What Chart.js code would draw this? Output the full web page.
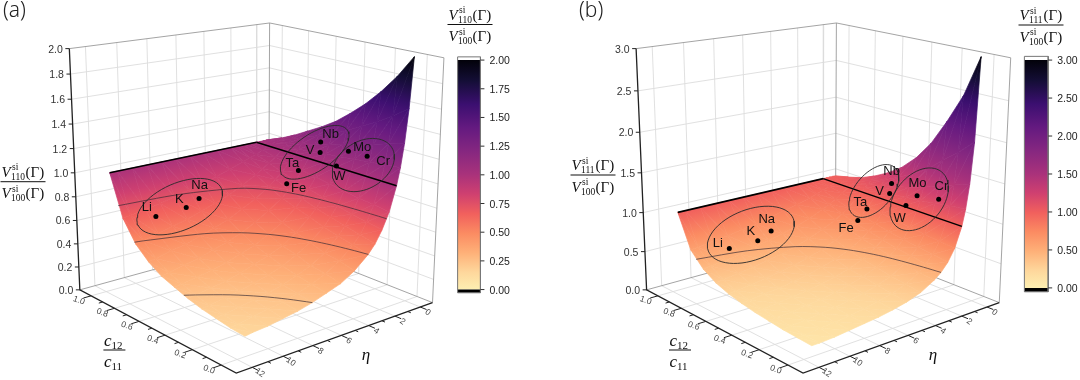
<!DOCTYPE html>
<html>
<head>
<meta charset="utf-8">
<style>
  html, body { margin: 0; background: #fff; }
  canvas { display: block; filter: blur(0.35px); }
</style>
<script src="https://cdn.jsdelivr.net/npm/chart.js@4"></script>
</head>
<body>
<canvas id="chart" width="1080" height="380"></canvas>
<script>
// values: one row per c12/c11, one column per eta
const c12Grid = [0, 0.1, 0.2, 0.3, 0.4, 0.5, 0.6, 0.7, 0.8, 0.9, 1];
const etaGrid = [0, 0.25, 0.5, 0.75, 1, 1.5, 2, 2.5, 3, 4, 5, 6, 7, 8, 9, 10, 11, 11.5];

const ratio110 = [
  [2.00, 1.60, 1.33, 1.14, 1, 0.80, 0.67, 0.57, 0.50, 0.40, 0.33, 0.29, 0.25, 0.22, 0.20, 0.18, 0.17, 0.16],
  [1.82, 1.51, 1.29, 1.13, 1, 0.82, 0.69, 0.60, 0.53, 0.43, 0.36, 0.31, 0.27, 0.24, 0.22, 0.20, 0.18, 0.17],
  [1.67, 1.43, 1.25, 1.11, 1, 0.83, 0.71, 0.63, 0.56, 0.45, 0.38, 0.33, 0.29, 0.26, 0.24, 0.22, 0.20, 0.19],
  [1.54, 1.36, 1.21, 1.10, 1, 0.85, 0.74, 0.66, 0.59, 0.49, 0.42, 0.36, 0.32, 0.29, 0.26, 0.24, 0.22, 0.21],
  [1.43, 1.29, 1.18, 1.08, 1, 0.87, 0.77, 0.69, 0.63, 0.53, 0.45, 0.40, 0.36, 0.32, 0.29, 0.27, 0.25, 0.24],
  [1.33, 1.23, 1.14, 1.07, 1, 0.89, 0.80, 0.73, 0.67, 0.57, 0.50, 0.44, 0.40, 0.36, 0.33, 0.31, 0.29, 0.28],
  [1.25, 1.18, 1.11, 1.05, 1, 0.91, 0.83, 0.77, 0.71, 0.63, 0.56, 0.50, 0.45, 0.42, 0.38, 0.36, 0.33, 0.32],
  [1.18, 1.13, 1.08, 1.04, 1, 0.93, 0.87, 0.82, 0.77, 0.69, 0.63, 0.57, 0.53, 0.49, 0.45, 0.43, 0.40, 0.39],
  [1.11, 1.08, 1.05, 1.03, 1, 0.95, 0.91, 0.87, 0.83, 0.77, 0.71, 0.67, 0.63, 0.59, 0.56, 0.53, 0.50, 0.49],
  [1.05, 1.04, 1.03, 1.01, 1, 0.98, 0.95, 0.93, 0.91, 0.87, 0.83, 0.80, 0.77, 0.74, 0.71, 0.69, 0.67, 0.66],
  [1, 1, 1, 1, 1, 1, 1, 1, 1, 1, 1, 1, 1, 1, 1, 1, 1, 1]
];

const ratio111 = [
  [3.00, 2.00, 1.50, 1.20, 1, 0.75, 0.60, 0.50, 0.43, 0.33, 0.27, 0.23, 0.20, 0.18, 0.16, 0.14, 0.13, 0.13],
  [2.50, 1.82, 1.43, 1.18, 1, 0.77, 0.63, 0.53, 0.45, 0.36, 0.29, 0.25, 0.22, 0.19, 0.17, 0.16, 0.14, 0.14],
  [2.14, 1.67, 1.36, 1.15, 1, 0.79, 0.65, 0.56, 0.48, 0.38, 0.32, 0.27, 0.24, 0.21, 0.19, 0.17, 0.16, 0.15],
  [1.82, 1.50, 1.28, 1.12, 1, 0.81, 0.68, 0.59, 0.52, 0.42, 0.35, 0.30, 0.26, 0.23, 0.21, 0.19, 0.18, 0.17],
  [1.58, 1.38, 1.22, 1.10, 1, 0.83, 0.71, 0.63, 0.56, 0.45, 0.38, 0.33, 0.29, 0.26, 0.24, 0.22, 0.20, 0.19],
  [1.40, 1.28, 1.17, 1.08, 1, 0.86, 0.75, 0.67, 0.60, 0.50, 0.43, 0.38, 0.33, 0.30, 0.27, 0.25, 0.23, 0.22],
  [1.27, 1.19, 1.12, 1.06, 1, 0.88, 0.79, 0.71, 0.65, 0.56, 0.48, 0.43, 0.38, 0.35, 0.32, 0.29, 0.27, 0.26],
  [1.17, 1.12, 1.08, 1.04, 1, 0.91, 0.83, 0.77, 0.71, 0.63, 0.56, 0.50, 0.45, 0.42, 0.38, 0.36, 0.33, 0.32],
  [1.09, 1.07, 1.05, 1.02, 1, 0.94, 0.88, 0.83, 0.79, 0.71, 0.65, 0.60, 0.56, 0.52, 0.48, 0.45, 0.43, 0.42],
  [1.04, 1.03, 1.02, 1.01, 1, 0.97, 0.94, 0.91, 0.88, 0.83, 0.79, 0.75, 0.71, 0.68, 0.65, 0.63, 0.60, 0.59],
  [1, 1, 1, 1, 1, 1, 1, 1, 1, 1, 1, 1, 1, 1, 1, 1, 1, 1]
];

// contour lines on the surfaces
const contour75C = [0, 0.1, 0.2, 0.3, 0.4, 0.5, 0.6, 0.7, 0.8, 0.9, 0.937];
const contour75Eta = [1.67, 1.74, 1.83, 1.95, 2.11, 2.33, 2.67, 3.22, 4.33, 7.67, 11.5];
const contour50C = [0, 0.1, 0.2, 0.3, 0.4, 0.5, 0.6, 0.7, 0.8, 0.81];
const contour50Eta = [3, 3.22, 3.5, 3.86, 4.33, 5, 6, 7.67, 11, 11.5];
const contour25C = [0, 0.1, 0.2, 0.3, 0.4, 0.43];
const contour25Eta = [7, 7.67, 8.5, 9.57, 11, 11.5];
const contour111C = [0, 0.1, 0.2, 0.3, 0.4, 0.5, 0.6, 0.7, 0.8, 0.857];
const contour111Eta = [2.5, 2.67, 2.88, 3.14, 3.5, 4, 4.75, 6, 8.5, 11.5];

// elements, as placed in each panel
const elementNames = ['Li', 'K', 'Na', 'Ta', 'V', 'Nb', 'Mo', 'Cr', 'W', 'Fe'];
const element110C = [0.84, 0.83, 0.84, 0.60, 0.535, 0.56, 0.34, 0.22, 0.40, 0.59];
const element110Eta = [9.8, 7.8, 6.8, 1.77, 0.8, 0.5, 0.77, 0.7, 1.0, 2.76];
const element110Z = [0.65, 0.67, 0.715, 0.914, 1.07, 1.144, 1.15, 1.15, 1.01, 0.83];
const element111C = [0.84, 0.83, 0.84, 0.60, 0.51, 0.525, 0.32, 0.18, 0.375, 0.59];
const element111Eta = [9.4, 7.5, 6.45, 1.6, 0.8, 0.5, 0.77, 0.7, 1.0, 2.4];
const element111Z = [0.545, 0.56, 0.63, 0.86, 1.085, 1.195, 1.17, 1.21, 1.02, 0.75];

// tick labels
const cTicks = ['0.0', '0.2', '0.4', '0.6', '0.8', '1.0'];
const etaTicks = ['0', '2', '4', '6', '8', '10', '12'];
const zTicks110 = ['0.0', '0.2', '0.4', '0.6', '0.8', '1.0', '1.2', '1.4', '1.6', '1.8', '2.0'];
const zTicks111 = ['0.0', '0.5', '1.0', '1.5', '2.0', '2.5', '3.0'];
const barTicks110 = ['0.00', '0.25', '0.50', '0.75', '1.00', '1.25', '1.50', '1.75', '2.00'];
const barTicks111 = ['0.00', '0.50', '1.00', '1.50', '2.00', '2.50', '3.00'];

// axis ranges of the box
const cRange = [-0.1, 1.1];
const etaRange = [-1, 13];

const magmaStops = [
  [0, '#fdf2b4'], [0.083, '#fed79c'], [0.167, '#feb078'], [0.25, '#fb8b62'], [0.333, '#f1605d'],
  [0.417, '#cf4070'], [0.5, '#a9327b'], [0.6, '#852780'], [0.7, '#641a80'], [0.8, '#3b0f70'],
  [0.9, '#140e36'], [1, '#000004']
];

function hexRgb(h) {
  return [1, 3, 5].map(i => parseInt(h.substr(i, 2), 16));
}
function magma(f) {
  f = Math.max(0, Math.min(1, f));
  for (let i = 1; i < magmaStops.length; i++) {
    if (f <= magmaStops[i][0]) {
      const t = (f - magmaStops[i - 1][0]) / (magmaStops[i][0] - magmaStops[i - 1][0]);
      const a = hexRgb(magmaStops[i - 1][1]), b = hexRgb(magmaStops[i][1]);
      return `rgb(${a.map((v, k) => Math.round(v + (b[k] - v) * t)).join(',')})`;
    }
  }
  return magmaStops[magmaStops.length - 1][1];
}

// perspective of panel (a), measured at the box corners
const box = {
  right: [431.7, 305], back: [266.6, 239], left: [76.4, 292], front: [234, 377],
  topLeft: [66.4, 45], topBack: [266.6, 22.7], topRight: [443.8, 51.7]
};

function buildCamera() {
  const p00 = box.right, p10 = box.back, p11 = box.left, p01 = box.front;
  const dx1 = p10[0] - p11[0], dx2 = p01[0] - p11[0], sx = p00[0] - p10[0] + p11[0] - p01[0];
  const dy1 = p10[1] - p11[1], dy2 = p01[1] - p11[1], sy = p00[1] - p10[1] + p11[1] - p01[1];
  const det = dx1 * dy2 - dx2 * dy1;
  const g = (sx * dy2 - dx2 * sy) / det, h = (dx1 * sy - sx * dy1) / det;
  const a = p10[0] - p00[0] + g * p10[0], b = p01[0] - p00[0] + h * p01[0], d = p00[0];
  const e = p10[1] - p00[1] + g * p10[1], f = p01[1] - p00[1] + h * p01[1], j = p00[1];
  const rest = (pt, u, v) => [
    pt[0] * (g * u + h * v + 1) - (a * u + b * v + d),
    pt[1] * (g * u + h * v + 1) - (e * u + f * v + j)
  ];
  const rL = rest(box.topLeft, 1, 1), rR = rest(box.topRight, 0, 0), rB = rest(box.topBack, 1, 0);
  const k = (rL[0] - rR[0]) / (box.topRight[0] - box.topLeft[0]);
  const cx = (rL[0] + box.topLeft[0] * k + rR[0] + box.topRight[0] * k + rB[0] + box.topBack[0] * k) / 3;
  const cy = (rL[1] + box.topLeft[1] * k + rR[1] + box.topRight[1] * k + rB[1] + box.topBack[1] * k) / 3;
  return { a, b, cx, d, e, f, cy, j, g, h, k };
}
const cam = buildCamera();

function project(panel, c, eta, z) {
  const u = (c - cRange[0]) / (cRange[1] - cRange[0]);
  const v = (eta - etaRange[0]) / (etaRange[1] - etaRange[0]);
  const w = z / panel.zMax;
  const q = cam.g * u + cam.h * v + cam.k * w + 1;
  return {
    x: (cam.a * u + cam.b * v + cam.cx * w + cam.d) / q + panel.dx,
    y: (cam.e * u + cam.f * v + cam.cy * w + cam.j) / q
  };
}

const panels = [
  {
    name: '(a)', nameX: 3, dx: 0, zMax: 2, rows: ratio110, zTicks: zTicks110, hkl: '110',
    elC: element110C, elEta: element110Eta, elZ: element110Z,
    contours: [[contour75C, contour75Eta, 0.75], [contour50C, contour50Eta, 0.5], [contour25C, contour25Eta, 0.25]],
    bar: { x0: 457, x1: 480, over: 54, top: 57.3, bottom: 291.7, under: 295, ticks: barTicks110 },
    ratioLeft: [23, 181.7], ratioBar: [470, 24.5], cLabel: [114.4, 350], etaLabel: [366, 356],
    ellipses: [[177, 207, 46, 24, -24], [313, 151.5, 40, 18.7, -34.6], [362, 164.5, 33.8, 24, -32.5]],
    labelOffsets: [[-9, -10], [-7, -9.5], [0.5, -14], [-6, -8.3], [-10, -3], [10, -8.5], [13.7, -5], [16, 4], [3, 9.6], [12, 4]]
  },
  {
    name: '(b)', nameX: 579, dx: 571, zMax: 3, rows: ratio111, zTicks: zTicks111, hkl: '111',
    elC: element111C, elEta: element111Eta, elZ: element111Z,
    contours: [[contour111C, contour111Eta, 0.5]],
    bar: { x0: 1028, x1: 1052, over: 53.5, top: 57.3, bottom: 290, under: 294, ticks: barTicks111 },
    ratioLeft: [593, 175], ratioBar: [1041, 25], cLabel: [680, 350], etaLabel: [933, 356],
    ellipses: [[752.4, 235.8, 45.9, 25.8, -21.2], [876.3, 191, 32, 18.4, -49], [922, 199.5, 36, 24.4, -51.7]],
    labelOffsets: [[-11.5, -6], [-7, -10.3], [-4.4, -12.6], [-6.6, -7.7], [-10, -2.6], [0, -12.6], [0.4, -13], [2.7, -14], [-6.4, 12.4], [-11.7, 7.4]]
  }
];

const canvas = document.getElementById('chart');
const ctx2d = canvas.getContext('2d');
const datasets = [];

const gap = { x: null, y: null };

function addLine(points, color, width, extra) {
  datasets.push(Object.assign({
    data: points, showLine: true, borderColor: color, borderWidth: width,
    pointRadius: 0, fill: false, tension: 0
  }, extra || {}));
}

function addFace(points, paint, edge) {
  datasets.push({
    data: points, showLine: true, fill: 'shape', backgroundColor: paint,
    borderColor: paint, borderWidth: edge, pointRadius: 0, tension: 0
  });
}

function addTriangle(panel, a, b, c) {
  const x1 = b.p.x - a.p.x, y1 = b.p.y - a.p.y, x2 = c.p.x - a.p.x, y2 = c.p.y - a.p.y;
  const dz1 = b.z - a.z, dz2 = c.z - a.z;
  const det = x1 * y2 - x2 * y1;
  const pts = [a.p, b.p, c.p, a.p];
  const lo = Math.min(a.z, b.z, c.z), hi = Math.max(a.z, b.z, c.z);
  if (Math.abs(det) < 1e-6 || hi - lo < 1e-6) {
    addFace(pts, magma(a.z / panel.zMax), 0.7);
    return;
  }
  const gx = (dz1 * y2 - dz2 * y1) / det, gy = (x1 * dz2 - x2 * dz1) / det;
  const n = gx * gx + gy * gy;
  const grad = ctx2d.createLinearGradient(
    a.p.x + (lo - a.z) * gx / n, a.p.y + (lo - a.z) * gy / n,
    a.p.x + (hi - a.z) * gx / n, a.p.y + (hi - a.z) * gy / n
  );
  for (let s = 0; s <= 8; s++) {
    grad.addColorStop(s / 8, magma((lo + (hi - lo) * s / 8) / panel.zMax));
  }
  addFace(pts, grad, 0.7);
}

function buildPanel(panel) {
  const P = (c, eta, z) => project(panel, c, eta, z);
  const grid = '#dcdcdc', wall = '#9a9a9a', dark = '#222';
  const zVals = panel.zTicks.map(Number);

  // walls and floor
  const gridPts = [];
  zVals.slice(1, -1).forEach(z => {
    gridPts.push(P(cRange[1], etaRange[1], z), P(cRange[1], etaRange[0], z), P(cRange[0], etaRange[0], z), gap);
  });
  etaTicks.map(Number).forEach(e => {
    gridPts.push(P(cRange[1], e, panel.zMax), P(cRange[1], e, 0), P(cRange[0], e, 0), gap);
  });
  cTicks.map(Number).forEach(c => {
    gridPts.push(P(c, etaRange[0], panel.zMax), P(c, etaRange[0], 0), P(c, etaRange[1], 0), gap);
  });
  addLine(gridPts, grid, 0.9);

  addLine([
    P(cRange[1], etaRange[1], panel.zMax), P(cRange[1], etaRange[0], panel.zMax), P(cRange[0], etaRange[0], panel.zMax),
    P(cRange[0], etaRange[0], 0), gap,
    P(cRange[1], etaRange[0], panel.zMax), P(cRange[1], etaRange[0], 0), gap,
    P(cRange[1], etaRange[1], 0), P(cRange[1], etaRange[0], 0), P(cRange[0], etaRange[0], 0)
  ], wall, 0.9);

  // front edges, z axis and their ticks
  addLine([P(cRange[1], etaRange[1], panel.zMax), P(cRange[1], etaRange[1], 0), P(cRange[0], etaRange[1], 0), P(cRange[0], etaRange[0], 0)], dark, 1.3);
  const tickPts = [];
  for (let c = 0; c <= 10; c++) {
    tickPts.push(P(c / 10, etaRange[1], 0), P(c / 10, etaRange[1] + (c % 2 ? 0.25 : 0.5), 0), gap);
  }
  for (let e = 0; e <= 12; e++) {
    tickPts.push(P(cRange[0], e, 0), P(cRange[0] - (e % 2 ? 0.02 : 0.04), e, 0), gap);
  }
  zVals.forEach(z => {
    const p = P(cRange[1], etaRange[1], z);
    tickPts.push(p, { x: p.x - 4, y: p.y }, gap);
  });
  addLine(tickPts, dark, 1);

  // surface, painted from the back corner to the front
  for (let i = c12Grid.length - 1; i > 0; i--) {
    for (let j = 0; j < etaGrid.length - 1; j++) {
      const v = (ci, ej) => ({ p: P(c12Grid[ci], etaGrid[ej], panel.rows[ci][ej]), z: panel.rows[ci][ej] });
      addTriangle(panel, v(i, j), v(i - 1, j), v(i, j + 1));
      addTriangle(panel, v(i - 1, j), v(i - 1, j + 1), v(i, j + 1));
    }
  }

  // contours
  panel.contours.forEach(([cs, etas, level]) => {
    addLine(cs.map((c, i) => P(c, etas[i], level)), 'rgba(50,40,50,0.75)', 0.9, { tension: 0.3 });
  });

  // the eta = 1 and c12/c11 = 1 lines where the ratio is 1
  addLine([P(1, 11.5, 1), P(1, 1, 1)], '#000', 1.6);
  addLine([P(1, 1, 1), P(0, 1, 1)], '#000', 1.5);

  // element groups
  panel.ellipses.forEach(([cx, cy, ra, rb, deg]) => {
    const th = deg * Math.PI / 180, pts = [];
    for (let t = 0; t <= 60; t++) {
      const s = t / 60 * 2 * Math.PI;
      pts.push({
        x: cx + ra * Math.cos(s) * Math.cos(th) - rb * Math.sin(s) * Math.sin(th),
        y: cy + ra * Math.cos(s) * Math.sin(th) + rb * Math.sin(s) * Math.cos(th)
      });
    }
    addLine(pts, '#2a2a2a', 0.9);
  });

  datasets.push({
    data: elementNames.map((_, i) => P(panel.elC[i], panel.elEta[i], panel.elZ[i])),
    showLine: false, pointRadius: 2.5, pointBackgroundColor: '#000', pointBorderWidth: 0
  });

  // colour bar
  const b = panel.bar;
  const barGrad = ctx2d.createLinearGradient(0, b.bottom, 0, b.top);
  magmaStops.forEach(([f, col]) => barGrad.addColorStop(f, col));
  addFace([{ x: b.x0, y: b.top }, { x: b.x1, y: b.top }, { x: b.x1, y: b.bottom }, { x: b.x0, y: b.bottom }, { x: b.x0, y: b.top }], barGrad, 0);
  addFace([{ x: b.x0, y: b.bottom }, { x: b.x1, y: b.bottom }, { x: b.x1, y: b.under }, { x: b.x0, y: b.under }, { x: b.x0, y: b.bottom }], '#000', 0);
  addLine([{ x: b.x0, y: b.over }, { x: b.x1, y: b.over }, { x: b.x1, y: b.under }, { x: b.x0, y: b.under }, { x: b.x0, y: b.over }], '#777', 1);
  const barTickPts = [];
  b.ticks.forEach((t, i) => {
    const y = b.bottom + (b.top - b.bottom) * i / (b.ticks.length - 1);
    barTickPts.push({ x: b.x1, y }, { x: b.x1 + 4, y }, gap);
  });
  addLine(barTickPts, '#333', 1);
}

panels.forEach(buildPanel);
// first dataset is painted first
datasets.forEach((d, i) => { d.order = datasets.length - i; });

function drawRatio(ctx, cx, barY, hkl) {
  const serif = '"Liberation Serif"';
  const row = (hklText, base) => {
    let x = cx - 21.5;
    ctx.textAlign = 'left';
    ctx.font = `italic 15px ${serif}`;
    ctx.fillText('V', x, base);
    x += 9.5;
    ctx.font = `9.5px ${serif}`;
    ctx.fillText('si', x + 1, base - 6.5);
    ctx.fillText(hklText, x, base + 3);
    x += 14.5;
    ctx.font = `15px ${serif}`;
    ctx.fillText('(Γ)', x, base);
  };
  ctx.fillStyle = '#111';
  row(hkl, barY - 5);
  row('100', barY + 16.5);
  ctx.fillRect(cx - 22.5, barY - 0.5, 45, 1);
}

function drawC(ctx, cx, barY) {
  const serif = '"Liberation Serif"';
  const row = (sub, base) => {
    ctx.textAlign = 'left';
    ctx.font = `italic 17px ${serif}`;
    ctx.fillText('c', cx - 10.5, base);
    ctx.font = `11px ${serif}`;
    ctx.fillText(sub, cx - 3, base + 3);
  };
  ctx.fillStyle = '#111';
  row('12', barY - 4);
  row('11', barY + 17);
  ctx.fillRect(cx - 11, barY - 0.5, 22, 1);
}

const textPlugin = {
  id: 'panelText',
  afterDraw(chart) {
    const ctx = chart.ctx;
    const sx = chart.scales.x, sy = chart.scales.y;
    const at = p => [sx.getPixelForValue(p.x), sy.getPixelForValue(p.y)];
    const sans = '"Liberation Sans"';
    ctx.save();
    ctx.textBaseline = 'alphabetic';
    panels.forEach(panel => {
      const P = (c, eta, z) => project(panel, c, eta, z);

      ctx.fillStyle = '#222';
      ctx.textAlign = 'left';
      ctx.font = '300 21px "Noto Sans"';
      ctx.fillText(panel.name, panel.nameX, 17);

      // z axis
      ctx.fillStyle = '#333';
      ctx.font = `10.5px ${sans}`;
      ctx.textAlign = 'right';
      panel.zTicks.forEach(t => {
        const [x, y] = at(P(cRange[1], etaRange[1], Number(t)));
        ctx.fillText(t, x - 6.5, y + 4);
      });

      // floor axes
      ctx.font = `8.5px ${sans}`;
      ctx.textAlign = 'center';
      ctx.fillStyle = '#444';
      cTicks.forEach(t => {
        const [x, y] = at(P(Number(t), etaRange[1], 0));
        ctx.save();
        ctx.translate(x - 12, y + 4);
        ctx.rotate(20 * Math.PI / 180);
        ctx.fillText(t, 0, 3);
        ctx.restore();
      });
      etaTicks.forEach(t => {
        const [x, y] = at(P(cRange[0], Number(t), 0));
        ctx.save();
        ctx.translate(x + 8, y + 5);
        ctx.rotate(35 * Math.PI / 180);
        ctx.fillText(t, 0, 3);
        ctx.restore();
      });

      // colour bar labels
      const b = panel.bar;
      ctx.fillStyle = '#222';
      ctx.textAlign = 'left';
      ctx.font = `10.5px ${sans}`;
      b.ticks.forEach((t, i) => {
        const y = sy.getPixelForValue(b.bottom + (b.top - b.bottom) * i / (b.ticks.length - 1));
        ctx.fillText(t, sx.getPixelForValue(b.x1 + 9), y + 4);
      });

      // element names
      ctx.fillStyle = '#111';
      ctx.textAlign = 'center';
      ctx.font = `13px ${sans}`;
      elementNames.forEach((name, i) => {
        const [x, y] = at(P(panel.elC[i], panel.elEta[i], panel.elZ[i]));
        const [ox, oy] = panel.labelOffsets[i];
        ctx.fillText(name, x + ox, y + oy + 4.5);
      });

      drawRatio(ctx, panel.ratioLeft[0], panel.ratioLeft[1], panel.hkl);
      drawRatio(ctx, panel.ratioBar[0], panel.ratioBar[1], panel.hkl);
      drawC(ctx, panel.cLabel[0], panel.cLabel[1]);
      ctx.font = 'italic 17px "Liberation Serif"';
      ctx.textAlign = 'center';
      ctx.fillStyle = '#111';
      ctx.fillText('η', panel.etaLabel[0], panel.etaLabel[1] + 4);
    });
    ctx.restore();
  }
};

new Chart(canvas, {
  type: 'scatter',
  data: { datasets: datasets },
  options: {
    responsive: false,
    animation: false,
    events: [],
    clip: false,
    layout: { padding: 0 },
    scales: {
      x: { type: 'linear', min: 0, max: 1080, display: false },
      y: { type: 'linear', min: 0, max: 380, reverse: true, display: false }
    },
    plugins: { legend: { display: false }, tooltip: { enabled: false }, title: { display: false } }
  },
  plugins: [textPlugin]
});
</script>
</body>
</html>
